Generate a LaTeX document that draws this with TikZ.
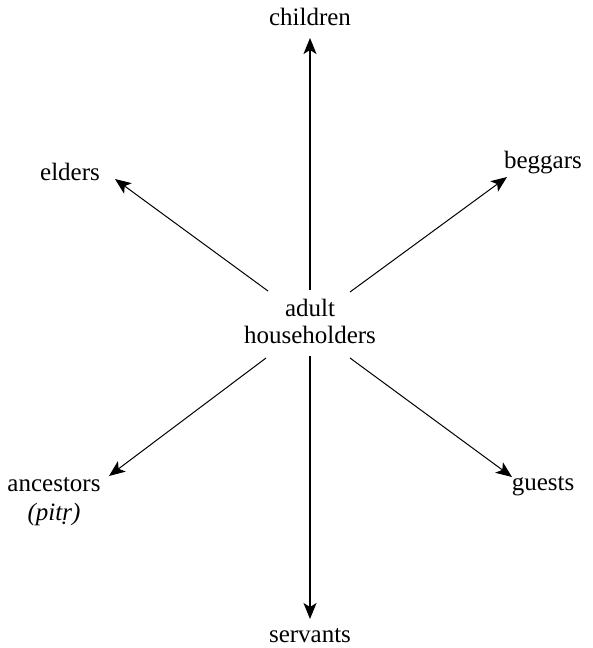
\documentclass[tikz,border=0pt]{standalone}
\usepackage{fontspec}
\setmainfont{Liberation Serif}
\newfontfamily\tms{Liberation Serif}
\usetikzlibrary{arrows.meta}
\begin{document}
\begin{tikzpicture}[x=1pt,y=-1pt,
  lbl/.style={font=\tms\fontsize{25}{27}\selectfont, inner sep=0pt, align=center},
  arr/.style={-{Stealth[length=16pt,width=13pt,inset=4pt]}, line width=1.6pt}]
\useasboundingbox (0,0) rectangle (592,648);
\node[lbl] (children) at (310,17) {children};
\node[lbl] (elders) at (70,172) {elders};
\node[lbl] (beggars) at (543,163) {beggars};
\node[lbl] (center) at (310,321) {adult\\householders};
\node[lbl] (ancestors) at (54,502) {ancestors\\[2pt]\textit{(pitṛ)}};
\node[lbl] (guests) at (543,486) {guests};
\node[lbl] (servants) at (310,636) {servants};
\coordinate (sUp) at (310,290);
\coordinate (sDown) at (310,356);
\coordinate (sNW) at (268,291);
\coordinate (sNE) at (350,292);
\coordinate (sSW) at (266,358);
\coordinate (sSE) at (350,358);
\coordinate (eUp) at (310,38);
\coordinate (eDown) at (310,619);
\coordinate (eNW) at (115,179);
\coordinate (eNE) at (507,177);
\coordinate (eSW) at (109,476);
\coordinate (eSE) at (512,477);
\draw[arr] (sUp) -- (eUp);
\draw[arr] (sDown) -- (eDown);
\draw[arr, line width=1pt] (sNW) -- (eNW);
\draw[arr, line width=1pt] (sNE) -- (eNE);
\draw[arr, line width=1pt] (sSW) -- (eSW);
\draw[arr, line width=1pt] (sSE) -- (eSE);
\end{tikzpicture}
\end{document}
